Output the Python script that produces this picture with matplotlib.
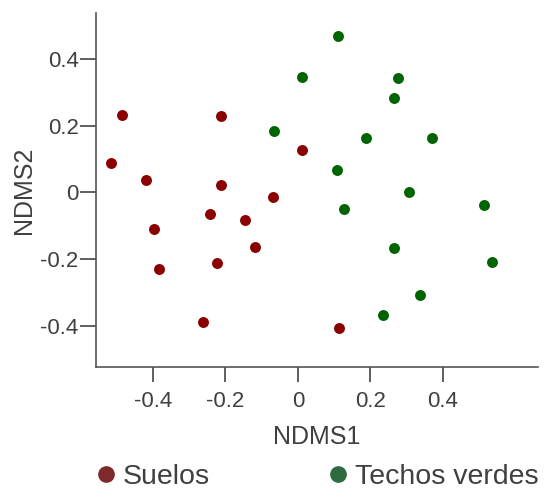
import matplotlib.pyplot as plt

# NMDS scores for each sample
suelos_x = [-0.486, -0.212, -0.516, -0.419, -0.212, -0.069, -0.243, -0.146,
            -0.397, -0.119, -0.223, -0.383, -0.262, 0.011, 0.113]
suelos_y = [0.233, 0.230, 0.089, 0.038, 0.023, -0.014, -0.065, -0.083,
            -0.110, -0.164, -0.212, -0.230, -0.389, 0.128, -0.407]
techos_x = [0.110, 0.011, 0.276, 0.265, -0.066, 0.188, 0.370, 0.108,
            0.306, 0.127, 0.513, 0.265, 0.535, 0.337, 0.235]
techos_y = [0.470, 0.347, 0.344, 0.284, 0.185, 0.164, 0.164, 0.068,
            0.002, -0.050, -0.038, -0.167, -0.209, -0.308, -0.368]
ticks = [-0.4, -0.2, 0, 0.2, 0.4]
tick_labels = ['-0.4', '-0.2', '0', '0.2', '0.4']

plt.rcParams['font.family'] = ['Liberation Sans', 'DejaVu Sans']
txt = '#404040'

fig = plt.figure(figsize=(5.56, 4.93), dpi=100)
ax = fig.add_axes([0.1727, 0.2556, 0.7949, 0.718])

ax.scatter(suelos_x, suelos_y, s=62, color='#8b0000', linewidths=0, label='Suelos')
ax.scatter(techos_x, techos_y, s=62, color='#006400', linewidths=0, label='Techos verdes')

ax.set_xlim(-0.557, 0.662)
ax.set_ylim(-0.524, 0.539)
ax.set_xticks(ticks)
ax.set_xticklabels(tick_labels)
ax.set_yticks(ticks)
ax.set_yticklabels(tick_labels)

for side in ['top', 'right']:
    ax.spines[side].set_visible(False)
for side in ['left', 'bottom']:
    ax.spines[side].set_color('#555555')
    ax.spines[side].set_linewidth(1.2)

ax.tick_params(axis='x', length=11, width=1.2, color='#444444', pad=6,
               labelsize=16, labelcolor=txt)
ax.tick_params(axis='y', length=11.5, width=1.2, color='#444444', pad=1,
               labelsize=16, labelcolor=txt)

ax.set_xlabel('NDMS1', fontsize=18, color=txt, labelpad=10)
ax.set_ylabel('NDMS2', fontsize=18, color=txt, labelpad=3)

fig.legend(handles=[
    plt.Line2D([], [], marker='o', ls='', color='#7f2a2a', markersize=11, label='Suelos'),
    plt.Line2D([], [], marker='o', ls='', color='#2e6b3e', markersize=11, label='Techos verdes'),
], loc='center left', bbox_to_anchor=(0.175, 0.033), ncol=2, frameon=False,
    fontsize=20.5, labelcolor=txt, handlelength=0.6, handletextpad=0.3,
    columnspacing=4.2, borderaxespad=0, borderpad=0)

fig.savefig('out.png', dpi=100)
